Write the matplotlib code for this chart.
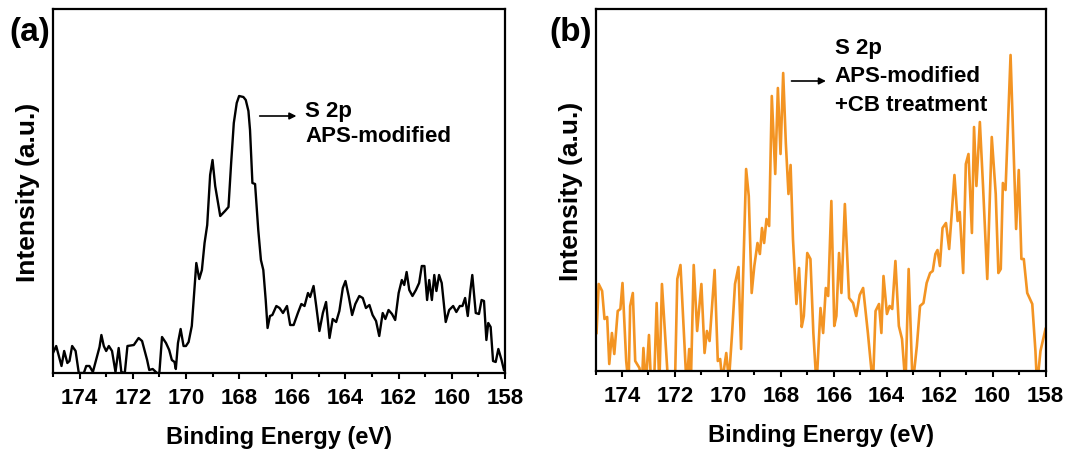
import numpy as np
import matplotlib.pyplot as plt
from matplotlib.ticker import MultipleLocator

plt.rcParams['font.family'] = ['Liberation Sans', 'DejaVu Sans']
plt.rcParams['font.weight'] = 'bold'

# panel (a): APS-modified, S 2p
energy_a = [175.0, 174.88, 174.68, 174.58, 174.46, 174.38, 174.28, 174.15, 174.03, 173.84,
            173.75, 173.63, 173.5, 173.34, 173.25, 173.18, 173.09, 173.0, 172.9, 172.78,
            172.65, 172.53, 172.43, 172.3, 172.2, 171.96, 171.78, 171.65, 171.46, 171.38,
            171.25, 171.09, 171.0, 170.9, 170.75, 170.63, 170.53, 170.43, 170.38, 170.3,
            170.2, 170.09, 170.0, 169.9, 169.78, 169.61, 169.5, 169.4, 169.3, 169.2,
            169.09, 169.0, 168.9, 168.71, 168.53, 168.4, 168.3, 168.2, 168.09, 168.0,
            167.84, 167.75, 167.65, 167.59, 167.5, 167.4, 167.28, 167.18, 167.09, 167.0,
            166.93, 166.84, 166.75, 166.6, 166.48, 166.35, 166.2, 166.08, 165.95, 165.79,
            165.66, 165.54, 165.41, 165.33, 165.2, 165.1, 164.98, 164.85, 164.73, 164.6,
            164.48, 164.35, 164.23, 164.1, 164.0, 163.88, 163.75, 163.63, 163.48, 163.35,
            163.23, 163.1, 162.98, 162.85, 162.73, 162.6, 162.5, 162.38, 162.25, 162.13,
            162.0, 161.88, 161.79, 161.7, 161.6, 161.48, 161.35, 161.23, 161.13, 161.03,
            160.93, 160.85, 160.75, 160.66, 160.58, 160.48, 160.38, 160.23, 160.1, 159.95,
            159.83, 159.7, 159.6, 159.5, 159.4, 159.3, 159.23, 159.1, 158.98, 158.88,
            158.79, 158.7, 158.63, 158.54, 158.45, 158.35, 158.25, 158.13, 158.04]
intensity_a = [20, 27, 7, 22, 10, 12, 27, 22, 0, 0,
               7, 7, 1, 17, 26, 38, 27, 22, 27, 22,
               1, 25, 1, 0, 27, 28, 35, 32, 13, 3,
               4, 0, 0, 36, 30, 23, 13, 11, 4, 30,
               44, 27, 27, 31, 47, 110, 94, 103, 130, 148,
               198, 213, 187, 157, 162, 166, 210, 250, 270, 277,
               276, 273, 262, 243, 190, 189, 143, 113, 103, 73,
               45, 57, 58, 67, 65, 60, 67, 48, 48, 60,
               69, 67, 80, 76, 87, 67, 42, 60, 71, 35,
               54, 51, 62, 85, 92, 77, 58, 69, 77, 75,
               65, 68, 58, 52, 37, 60, 54, 63, 59, 53,
               80, 93, 88, 101, 83, 77, 83, 90, 107, 107,
               73, 93, 73, 98, 82, 98, 90, 51, 63, 67,
               61, 67, 67, 75, 57, 83, 98, 60, 59, 73,
               72, 33, 50, 46, 12, 11, 24, 13, 3]

# panel (b): APS-modified + CB treatment, S 2p
energy_b = [174.96, 174.88, 174.75, 174.66, 174.56, 174.48, 174.38, 174.29, 174.16, 174.06,
            173.98, 173.84, 173.75, 173.69, 173.59, 173.5, 173.34, 173.25, 173.19, 173.1,
            172.98, 172.9, 172.79, 172.69, 172.59, 172.49, 172.25, 172.0, 171.91, 171.79,
            171.56, 171.46, 171.4, 171.29, 171.16, 171.0, 170.88, 170.79, 170.69, 170.5,
            170.38, 170.29, 170.21, 170.06, 169.96, 169.84, 169.73, 169.6, 169.5, 169.31,
            169.21, 169.1, 169.0, 168.88, 168.79, 168.71, 168.63, 168.54, 168.44, 168.34,
            168.21, 168.11, 168.01, 167.91, 167.81, 167.71, 167.63, 167.54, 167.41, 167.31,
            167.21, 167.13, 167.0, 166.88, 166.77, 166.65, 166.5, 166.4, 166.3, 166.21,
            166.09, 165.98, 165.9, 165.8, 165.71, 165.58, 165.42, 165.27, 165.15, 165.02,
            164.89, 164.71, 164.52, 164.42, 164.29, 164.2, 164.12, 163.99, 163.89, 163.79,
            163.67, 163.54, 163.42, 163.29, 163.17, 163.02, 162.86, 162.74, 162.61, 162.49,
            162.36, 162.26, 162.16, 162.08, 161.99, 161.89, 161.76, 161.64, 161.54, 161.44,
            161.32, 161.24, 161.11, 161.01, 160.91, 160.78, 160.7, 160.61, 160.48, 160.36,
            160.2, 160.03, 159.88, 159.78, 159.69, 159.61, 159.51, 159.32, 159.11, 159.01,
            158.91, 158.82, 158.69, 158.5, 158.38, 158.32, 158.19, 158.06, 158.0]
intensity_b = [38, 87, 80, 52, 54, 7, 38, 17, 60, 62,
               88, 10, -15, 65, 78, 10, 3, -15, 23, -15,
               36, -15, -15, 68, -15, 87, -15, -15, 92, 106,
               -15, 22, -15, 106, 40, 87, 18, 40, 30, 101,
               10, 12, -10, 18, -10, 38, 87, 104, 22, 202,
               175, 78, 105, 128, 117, 143, 128, 152, 145, 275,
               197, 283, 217, 298, 228, 177, 206, 132, 67, 103,
               44, 55, 118, 112, 38, -15, 63, 38, 83, 75,
               170, 45, 55, 118, 78, 167, 73, 68, 55, 76,
               83, 38, -15, 60, 67, 38, 95, 57, 65, 62,
               110, 45, 32, -15, 102, -15, 25, 65, 68, 88,
               98, 100, 117, 121, 105, 143, 148, 122, 158, 196,
               150, 159, 98, 207, 217, 138, 244, 185, 249, 185,
               92, 234, 177, 98, 102, 188, 181, 316, 142, 201,
               112, 112, 78, 67, 20, -15, 20, 35, 42]

xticks = [174, 172, 170, 168, 166, 164, 162, 160, 158]

fig = plt.figure(figsize=(10.71, 4.52), dpi=100)
ax_a = fig.add_axes([53 / 1071, 78 / 452, 452 / 1071, 364 / 452])
ax_b = fig.add_axes([595.5 / 1071, 80 / 452, 450 / 1071, 362 / 452])

ax_a.plot(energy_a, intensity_a, color='black', lw=1.7)
ax_b.plot(energy_b, intensity_b, color='#F39423', lw=1.9)

for ax, top in [(ax_a, 364), (ax_b, 362)]:
    ax.set_xlim(175, 158)
    ax.set_ylim(0, top)
    ax.set_xticks(xticks)
    ax.xaxis.set_minor_locator(MultipleLocator(1))
    ax.set_yticks([])
    ax.tick_params(axis='x', which='major', direction='out', length=4, width=1.5,
                   labelsize=16, pad=6)
    ax.tick_params(axis='x', which='minor', direction='out', length=3, width=1.5)
    for sp in ax.spines.values():
        sp.set_linewidth(1.6)
    ax.set_xlabel('Binding Energy (eV)', fontsize=17, fontweight='bold', labelpad=12)
    ax.set_ylabel('Intensity (a.u.)', fontsize=19, fontweight='bold', labelpad=9)

# annotations
ax_a.annotate('', xy=(165.74, 257), xytext=(167.33, 257),
              arrowprops=dict(arrowstyle='-|>', color='black', lw=1.2, mutation_scale=10))
ax_a.text(165.52, 250, 'S 2p\nAPS-modified', fontsize=16, fontweight='bold',
          ha='left', va='center', linespacing=1.3)

ax_b.annotate('', xy=(166.19, 290), xytext=(167.70, 290),
              arrowprops=dict(arrowstyle='-|>', color='black', lw=1.2, mutation_scale=10))
ax_b.text(165.96, 295, 'S 2p\nAPS-modified\n+CB treatment', fontsize=16, fontweight='bold',
          ha='left', va='center', linespacing=1.45)

fig.text(9 / 1071, 1 - 32 / 452, '(a)', fontsize=24, fontweight='bold', ha='left', va='center')
fig.text(549 / 1071, 1 - 32 / 452, '(b)', fontsize=24, fontweight='bold', ha='left', va='center')

fig.savefig('out.png', dpi=100)
